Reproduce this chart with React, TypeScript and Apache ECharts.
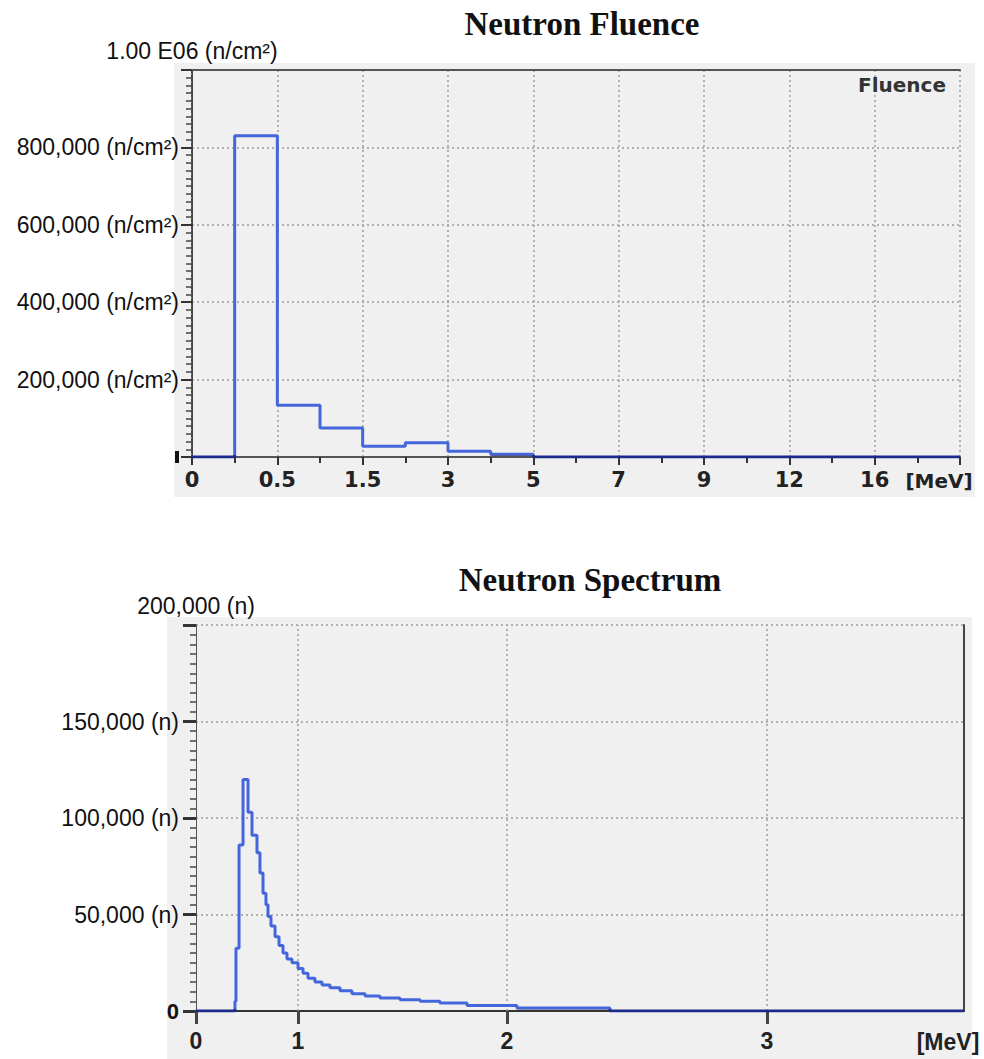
import React, { useEffect, useRef } from "react";
import * as echarts from "echarts";

// ---------- Neutron Fluence (top) ----------
// labels on the binned energy axis (equally spaced display positions)
const fluenceTickLabels = ["0", "0.5", "1.5", "3", "5", "7", "9", "12", "16", ""];
// fluence (n/cm²) in each half-interval between successive ticks
const fluenceValues = [
  0, 830000, 134000, 75000, 28000, 37000, 15000, 7000,
  0, 0, 0, 0, 0, 0, 0, 0, 0, 0,
];

// ---------- Neutron Spectrum (bottom) ----------
// the energy axis is drawn non-linearly: knots energy (MeV) -> axis units
const spectrumAxisEnergies = [0, 1, 2, 3, 3.76];
const spectrumAxisUnits = [0, 102, 311, 571, 768];
const spectrumTickEnergies = [0, 1, 2, 3];
const spectrumTickLabels = ["0", "1", "2", "3"];
// histogram: bin start energy (MeV) and counts (n)
const spectrumEdges = [
  0, 0.382, 0.392, 0.422, 0.461, 0.51, 0.549, 0.598, 0.627, 0.657, 0.686,
  0.706, 0.735, 0.775, 0.814, 0.853, 0.892, 0.941, 1.0, 1.024, 1.048, 1.081,
  1.115, 1.153, 1.201, 1.258, 1.321, 1.392, 1.488, 1.584, 1.679, 1.809, 2.038,
  2.396,
];
const spectrumCounts = [
  0, 5000, 32500, 86000, 120000, 103000, 91000, 82000, 71500, 61000, 55000,
  49000, 44000, 38500, 34000, 30000, 27000, 25000, 22000, 19500, 17000, 15000,
  13500, 12000, 10500, 9000, 7800, 6800, 5800, 5000, 4200, 2800, 1500, 0,
];
const spectrumEndEnergy = 3.76;

function toAxisUnits(e: number): number {
  const E = spectrumAxisEnergies;
  const U = spectrumAxisUnits;
  for (let i = 0; i < E.length - 1; i++) {
    if (e <= E[i + 1] || i === E.length - 2) {
      const t = (e - E[i]) / (E[i + 1] - E[i]);
      return U[i] + t * (U[i + 1] - U[i]);
    }
  }
  return U[U.length - 1];
}

const labelFont = "'Liberation Sans', Arial, sans-serif";
const pixelFont = "'DejaVu Sans', Verdana, sans-serif";
const titleFont = "'Liberation Serif', 'Times New Roman', serif";
const gridStyle = { color: "#9c9c9c", type: [2, 3] as any, width: 1.5 };
const lineBlue = "#4466dc";
const baseNavy = "#1c2b8a";

export default function App() {
  const ref = useRef<HTMLDivElement>(null);

  useEffect(() => {
    if (!ref.current) return;
    const chart = echarts.init(ref.current, undefined, { renderer: "svg" });

    const fluencePoints: number[][] = fluenceValues.map((v, i) => [i * 0.5, v]);
    fluencePoints.push([fluenceValues.length * 0.5, fluenceValues[fluenceValues.length - 1]]);

    const spectrumPoints: number[][] = spectrumEdges.map((e, i) => [toAxisUnits(e), spectrumCounts[i]]);
    spectrumPoints.push([toAxisUnits(spectrumEndEnergy), 0]);

    const spectrumTickUnits = spectrumTickEnergies.map(toAxisUnits);

    const option: any = {
      animation: false,
      backgroundColor: "#ffffff",
      title: [
        {
          text: "Neutron Fluence",
          left: 582,
          top: 7,
          padding: 0,
          textAlign: "center",
          textStyle: { fontFamily: titleFont, fontWeight: "bold", fontSize: 33, color: "#111" },
        },
        {
          text: "Neutron Spectrum",
          left: 590,
          top: 563,
          padding: 0,
          textAlign: "center",
          textStyle: { fontFamily: titleFont, fontWeight: "bold", fontSize: 33, color: "#111" },
        },
      ],
      grid: [
        { left: 192, top: 70, width: 768, height: 387, containLabel: false },
        { left: 196, top: 625, width: 768, height: 386, containLabel: false },
      ],
      visualMap: [
        {
          type: "piecewise",
          show: false,
          seriesIndex: 0,
          dimension: 1,
          pieces: [
            { gte: -100000000, lte: 4000, color: baseNavy },
            { gt: 4000, lte: 100000000, color: lineBlue },
          ],
          outOfRange: { color: lineBlue },
        },
        {
          type: "piecewise",
          show: false,
          seriesIndex: 1,
          dimension: 1,
          pieces: [
            { gte: -100000000, lte: 800, color: baseNavy },
            { gt: 800, lte: 100000000, color: lineBlue },
          ],
          outOfRange: { color: lineBlue },
        },
      ],
      xAxis: [
        {
          gridIndex: 0,
          type: "value",
          min: 0,
          max: 9,
          interval: 1,
          axisLine: { show: true, onZero: false, lineStyle: { color: "#555", width: 2 } },
          axisTick: { show: true, length: 8, lineStyle: { color: "#333", width: 2 } },
          minorTick: { show: true, splitNumber: 2, length: 6, lineStyle: { color: "#333", width: 2 } },
          axisLabel: {
            margin: 12,
            formatter: (v: number) => fluenceTickLabels[Math.round(v)] ?? "",
            fontFamily: pixelFont,
            fontWeight: "bold",
            fontSize: 21,
            color: "#222",
          },
          splitLine: { show: true, lineStyle: gridStyle },
        },
        {
          gridIndex: 0,
          type: "value",
          position: "top",
          min: 0,
          max: 9,
          axisLine: { show: true, onZero: false, lineStyle: { color: "#555", width: 2 } },
          axisTick: { show: false },
          axisLabel: { show: false },
          splitLine: { show: false },
        },
        {
          gridIndex: 1,
          type: "value",
          min: 0,
          max: toAxisUnits(spectrumEndEnergy),
          axisLine: { show: true, onZero: false, lineStyle: { color: "#333", width: 2 } },
          axisTick: {
            show: true,
            customValues: spectrumTickUnits,
            length: 13,
            lineStyle: { color: "#444", width: 3 },
          },
          axisLabel: {
            customValues: spectrumTickUnits,
            margin: 18,
            formatter: (v: number) => {
              const i = spectrumTickUnits.findIndex((u) => Math.abs(u - v) < 0.5);
              return i >= 0 ? spectrumTickLabels[i] : "";
            },
            fontFamily: labelFont,
            fontWeight: "bold",
            fontSize: 23,
            color: "#222",
          },
          splitLine: { show: false },
        },
      ],
      yAxis: [
        {
          gridIndex: 0,
          type: "value",
          min: 0,
          max: 1000000,
          interval: 200000,
          name: "1.00 E06 (n/cm²)",
          nameLocation: "end",
          nameGap: 8,
          nameTextStyle: { fontFamily: labelFont, fontSize: 23, color: "#111" },
          axisLine: { show: true, lineStyle: { color: "#555", width: 1 } },
          axisTick: { show: true, length: 11, lineStyle: { color: "#333", width: 2 } },
          minorTick: { show: true, splitNumber: 10, length: 6, lineStyle: { color: "#444", width: 1.5 } },
          axisLabel: {
            margin: 13,
            formatter: (v: number) =>
              v === 0 || v === 1000000 ? "" : `${v.toLocaleString("en-US")} (n/cm²)`,
            fontFamily: labelFont,
            fontSize: 23,
            color: "#111",
          },
          splitLine: { show: true, lineStyle: gridStyle },
        },
        {
          gridIndex: 0,
          type: "value",
          position: "right",
          min: 0,
          max: 1000000,
          axisLine: { show: true, lineStyle: { color: "#444", width: 2, type: [2, 2] } },
          axisTick: { show: false },
          axisLabel: { show: false },
          splitLine: { show: false },
        },
        {
          gridIndex: 1,
          type: "value",
          min: 0,
          max: 200000,
          interval: 50000,
          name: "200,000 (n)",
          nameLocation: "end",
          nameGap: 8,
          nameTextStyle: { fontFamily: labelFont, fontSize: 23, color: "#111" },
          axisLine: { show: true, lineStyle: { color: "#555", width: 1 } },
          axisTick: { show: true, length: 13, lineStyle: { color: "#333", width: 3 } },
          minorTick: { show: true, splitNumber: 10, length: 6, lineStyle: { color: "#444", width: 1.5 } },
          axisLabel: {
            margin: 17,
            formatter: (v: number) =>
              v === 0 ? "{z|0}" : v === 200000 ? "" : `${v.toLocaleString("en-US")} (n)`,
            fontFamily: labelFont,
            fontSize: 23,
            color: "#111",
            rich: {
              z: { fontFamily: labelFont, fontWeight: "bold", fontSize: 22, color: "#111" },
            },
          },
          splitLine: { show: true, lineStyle: gridStyle },
        },
        {
          gridIndex: 1,
          type: "value",
          position: "right",
          min: 0,
          max: 200000,
          axisLine: { show: true, lineStyle: { color: "#444", width: 2 } },
          axisTick: { show: false },
          axisLabel: { show: false },
          splitLine: { show: false },
        },
      ],
      series: [
        {
          name: "Fluence",
          type: "line",
          xAxisIndex: 0,
          yAxisIndex: 0,
          step: "end",
          symbol: "none",
          lineStyle: { width: 3 },
          data: fluencePoints,
          z: 5,
        },
        {
          name: "Spectrum",
          type: "line",
          xAxisIndex: 2,
          yAxisIndex: 2,
          step: "end",
          symbol: "none",
          lineStyle: { width: 3 },
          data: spectrumPoints,
          z: 5,
          markLine: {
            silent: true,
            symbol: "none",
            label: { show: false },
            lineStyle: gridStyle,
            z: 1,
            data: spectrumTickUnits.slice(1).map((u) => ({ xAxis: u })),
          },
        },
      ],
      graphic: [
        { type: "rect", z: -10, shape: { x: 174, y: 63, width: 801, height: 434 }, style: { fill: "#f0f0f0" }, silent: true },
        { type: "rect", z: -10, shape: { x: 167, y: 617, width: 805, height: 442 }, style: { fill: "#f0f0f0" }, silent: true },
        { type: "rect", z: 10, shape: { x: 175, y: 451, width: 4, height: 12 }, style: { fill: "#111" }, silent: true },
        {
          type: "text",
          z: 10,
          x: 946,
          y: 85,
          style: {
            text: "Fluence",
            align: "right",
            verticalAlign: "middle",
            fontFamily: pixelFont,
            fontWeight: "bold",
            fontSize: 20,
            fill: "#333",
          },
        },
        {
          type: "text",
          z: 10,
          x: 939,
          y: 481,
          style: {
            text: "[MeV]",
            align: "center",
            verticalAlign: "middle",
            fontFamily: pixelFont,
            fontWeight: "bold",
            fontSize: 20,
            fill: "#222",
          },
        },
        {
          type: "text",
          z: 10,
          x: 948,
          y: 1042,
          style: {
            text: "[MeV]",
            align: "center",
            verticalAlign: "middle",
            fontFamily: labelFont,
            fontWeight: "bold",
            fontSize: 23,
            fill: "#222",
          },
        },
      ],
    };

    chart.setOption(option);
    return () => chart.dispose();
  }, []);

  return (
    <div
      ref={ref}
      style={{ position: "absolute", left: 0, top: 0, width: 984, height: 1059, background: "#fff" }}
    />
  );
}
